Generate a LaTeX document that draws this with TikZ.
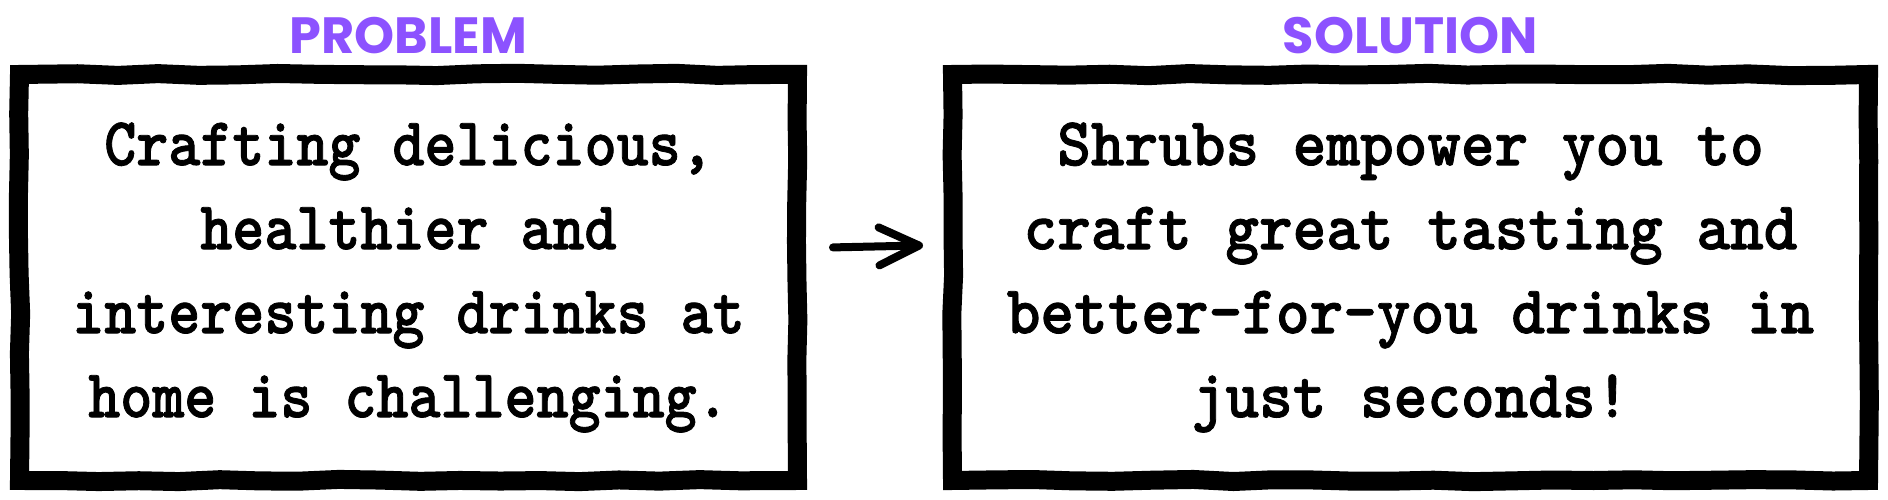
\documentclass[tikz,border=0pt]{standalone}
\usepackage{fontspec}
\usetikzlibrary{positioning, arrows.meta}
\usetikzlibrary{decorations.pathmorphing}
\newfontfamily\titlefont{Poppins}
\newfontfamily\typefont{lmmonolt10-bold.otf}[FakeStretch=0.89, FakeBold=1.2]
\newfontfamily\typefontwide{lmmonolt10-bold.otf}[FakeStretch=0.935, FakeBold=1.2]
\definecolor{titlepurple}{HTML}{8C52FF}

\begin{document}
\begin{tikzpicture}[
	node distance = 1mm and 13.6mm,
	box/.style = {rectangle, draw, line width=1.9mm, line join=miter,
		decorate, decoration={random steps, segment length=4mm, amplitude=0.12mm},
		minimum height=40.6mm, align=center, inner sep=0pt},
	title/.style = {inner sep=0pt, text=titlepurple,
		font=\titlefont\bfseries\fontsize{14.5}{17}\selectfont},
	arr/.style = {-{Straight Barb[length=4mm, width=3.8mm, round]},
		line width=0.8mm, line cap=round}
	]
	\pgfmathsetseed{5}
	\useasboundingbox (0,0) rectangle (18.88,5);
	
	\node (n1) [box, minimum width=77.8mm,
		font=\typefont\fontsize{19.5}{23.9}\selectfont] at (4.085,2.225)
		{Crafting delicious,\\ healthier and\\ interesting drinks at\\ home is challenging.};
	\node (n2) [box, minimum width=91.6mm, right=of n1,
		font=\typefontwide\fontsize{19.5}{23.9}\selectfont]
		{Shrubs empower you to\\ craft great tasting and\\ better-for-you drinks in\\ just seconds!};
	\node (t1) [title, above=of n1] {PROBLEM};
	\node (t2) [title, above=of n2] {SOLUTION};
	%
	\draw[arr, shorten <=2.6mm, shorten >=2mm] ([yshift=2.95mm]n1.east) -- ([yshift=3.25mm]n2.west);
\end{tikzpicture}
\end{document}
